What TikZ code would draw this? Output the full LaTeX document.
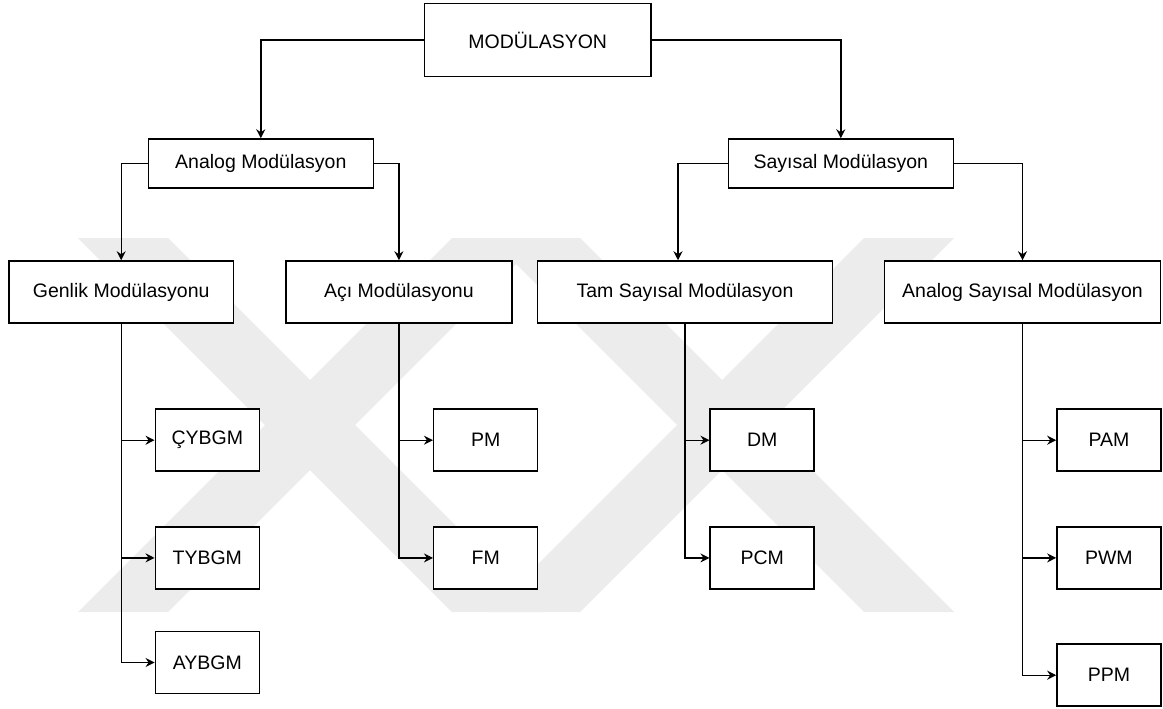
\documentclass[tikz,border=0pt]{standalone}
\usepackage{fontspec}
\setmainfont{Liberation Sans}
\usetikzlibrary{arrows.meta}
\begin{document}
\begin{tikzpicture}[x=1pt,y=-1pt,
  box/.style={draw, fill=white, line width=1.5pt, inner sep=0pt,
    font=\fontsize{19.5}{22}\selectfont},
  leaf/.style={box, minimum width=104pt, minimum height=62pt},
  link/.style={line width=1.4pt,
    -{Stealth[length=9pt,width=9pt,inset=3pt]}},
  band/.style={fill=gray!15, draw=none},
]
\useasboundingbox (0,0) rectangle (1163,709);

% faint background emblem: two crossed pairs of diagonal bands
\fill[band] (78,238) -- (168,238) -- (542,612) -- (452,612) -- cycle;
\fill[band] (78,612) -- (168,612) -- (542,238) -- (452,238) -- cycle;
\fill[band] (490,238) -- (580,238) -- (954,612) -- (864,612) -- cycle;
\fill[band] (490,612) -- (580,612) -- (954,238) -- (864,238) -- cycle;

% top level
\node[box, minimum width=226.7pt, minimum height=73.4pt] (mod) at (537.7,40) {MODÜLASYON};

% second level
\node[box, minimum width=225pt, minimum height=48.7pt] (ana) at (260.8,163.4) {Analog Modülasyon};
\node[box, minimum width=225pt, minimum height=48.7pt] (say) at (840.8,163.4) {Sayısal Modülasyon};

% third level
\node[box, minimum width=224.3pt, minimum height=62pt] (gen) at (121.2,292) {Genlik Modülasyonu};
\node[box, minimum width=225.7pt, minimum height=62pt] (aci) at (398.9,292) {Açı Modülasyonu};
\node[box, minimum width=294.6pt, minimum height=62pt] (tam) at (685,292) {Tam Sayısal Modülasyon};
\node[box, minimum width=276.4pt, minimum height=62pt] (asm) at (1022.5,292) {Analog Sayısal Modülasyon};

% leaves
\node[leaf] (cyb) at (207.3,440.2) {ÇYBGM};
\node[leaf] (tyb) at (207.3,557.9) {TYBGM};
\node[leaf] (ayb) at (207.3,662.5) {AYBGM};
\node[leaf] (pm)  at (485.7,440.2) {PM};
\node[leaf] (fm)  at (485.7,557.9) {FM};
\node[leaf] (dm)  at (762.2,440.2) {DM};
\node[leaf] (pcm) at (762.2,557.9) {PCM};
\node[leaf] (pam) at (1108.9,440.2) {PAM};
\node[leaf] (pwm) at (1108.9,557.9) {PWM};
\node[leaf] (ppm) at (1108.9,675.2) {PPM};

% branches
\draw[link] (mod.west) -| (ana.north);
\draw[link] (mod.east) -| (say.north);
\draw[link] (ana.west) -| (gen.north);
\draw[link] (ana.east) -| (aci.north);
\draw[link] (say.west) -| ([xshift=-7pt]tam.north);
\draw[link] (say.east) -| (asm.north);

\foreach \p/\c in {gen/cyb, gen/tyb, gen/ayb, aci/pm, aci/fm, tam/dm, tam/pcm,
                   asm/pam, asm/pwm, asm/ppm}
  \draw[link] (\p.south) |- (\c.west);
\end{tikzpicture}
\end{document}
